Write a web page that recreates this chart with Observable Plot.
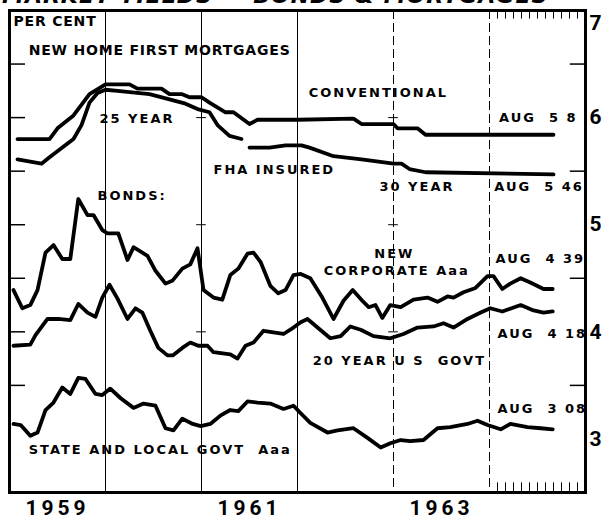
<!DOCTYPE html>
<html><head><meta charset="utf-8">
<script src="https://cdn.jsdelivr.net/npm/d3@7"></script>
<script src="https://cdn.jsdelivr.net/npm/@observablehq/plot@0.6"></script>
<style>
html,body{margin:0;padding:0;background:#fff;overflow:hidden}
#wrap{position:relative;width:604px;height:519px;overflow:hidden;background:#fff}
#title{position:absolute;left:2px;top:-15px;font:italic bold 22px "DejaVu Sans";line-height:1;white-space:nowrap;letter-spacing:1px;z-index:2;color:#000}
#wrap svg{position:absolute;left:0;top:0}
</style></head><body><div id="wrap"><div id="title">MARKET YIELDS — BONDS &amp; MORTGAGES</div></div>
<script>
// x is months since Jan 1959 (0 = start of 1959, 72 = end of 1964); values in per cent
const convMonths = [1,5,6,8,10,12,15,16,19,20,21.5,22.5,24,25,27,28,30,31,36,43,44,48,48.5,51,52,68];
const convValues = [5.80,5.80,5.90,6.02,6.22,6.31,6.31,6.27,6.27,6.22,6.22,6.19,6.19,6.14,6.05,6.05,5.94,5.98,5.98,5.99,5.94,5.94,5.90,5.90,5.84,5.84];

const fha25Months = [1,4,5,8,9,10,11,12,13.5,17.5,20,22,23.5,25,26,27.5,29];
const fha25Values = [5.61,5.57,5.63,5.80,5.93,6.14,6.23,6.26,6.25,6.22,6.17,6.13,6.08,6.05,5.93,5.83,5.80];

const fha30Months = [30,32.5,34.5,36.5,37.5,40.5,44,48,49,50,52,68];
const fha30Values = [5.72,5.72,5.74,5.74,5.72,5.64,5.61,5.57,5.57,5.52,5.49,5.47];

const corpMonths = [0.5,1.6,2.6,3.5,4.5,5.5,6.6,7.6,8.6,9.75,10.5,11.6,12.25,13.6,14.75,15.5,17.25,18.25,19.5,20.4,21.6,22.6,23.5,24.25,25.5,26.6,27.6,28.6,29.75,30.5,31.4,32.6,33.6,34.5,35.5,36.4,37.6,39.1,40.5,41.75,42.9,44.1,44.9,45.75,46.6,47.6,48.9,50.5,52.25,53.5,54.75,55.5,56.75,58.25,59.75,60.5,61.6,62.6,63.9,65.1,66.75,67.9];
const corpValues = [4.39,4.22,4.25,4.39,4.74,4.81,4.68,4.68,5.24,5.09,5.09,4.95,4.92,4.92,4.67,4.79,4.71,4.57,4.45,4.48,4.59,4.63,4.78,4.39,4.32,4.30,4.53,4.59,4.73,4.74,4.65,4.43,4.36,4.39,4.53,4.54,4.50,4.32,4.12,4.29,4.39,4.29,4.23,4.25,4.13,4.25,4.23,4.30,4.32,4.28,4.33,4.32,4.37,4.41,4.52,4.52,4.40,4.45,4.50,4.46,4.40,4.40];

const govtMonths = [0.5,2.6,3.25,4.75,6.1,7.6,8.6,9.75,10.75,11.6,12.5,13.5,14.75,15.75,16.6,17.6,18.6,19.75,20.4,21.6,22.6,23.6,24.75,25.5,27.6,28.5,29.5,30.5,31.75,34.25,35.5,36.4,37.25,38.5,40.1,41.4,42.6,43.9,45.5,47.6,49.25,51,53,54.25,55.5,57.25,58.9,60.1,61.6,63.9,65.5,66.75,67.9];
const govtValues = [3.87,3.88,3.97,4.12,4.12,4.11,4.26,4.18,4.14,4.32,4.44,4.31,4.12,4.22,4.18,4.01,3.85,3.78,3.78,3.85,3.90,3.87,3.87,3.81,3.79,3.75,3.87,3.90,4.01,3.98,4.04,4.09,4.12,4.04,3.94,3.96,4.05,4.02,3.96,3.94,3.98,4.04,4.05,4.08,4.04,4.12,4.18,4.22,4.19,4.25,4.20,4.18,4.19];

const stateMonths = [0.5,1.4,2.6,3.5,4.5,5.5,6.6,7.6,8.6,9.5,10.75,11.6,12.6,13.9,15.5,16.75,18.25,19.5,20.5,21.6,22.9,23.9,25.1,26.4,27.6,28.6,29.75,31,32.6,34.25,35.5,36.4,37.6,39.75,41,43,44.75,46.4,47.6,48.9,50.1,51.75,53.5,55.1,57.25,58.5,59.75,61.4,62.6,64.75,66.4,67.9];
const stateValues = [3.14,3.13,3.03,3.06,3.27,3.34,3.48,3.42,3.57,3.56,3.42,3.41,3.47,3.38,3.29,3.33,3.31,3.10,3.08,3.19,3.14,3.12,3.14,3.22,3.27,3.26,3.35,3.34,3.33,3.28,3.31,3.24,3.15,3.06,3.08,3.10,3.01,2.92,2.96,2.99,2.98,2.99,3.10,3.11,3.14,3.17,3.13,3.09,3.14,3.11,3.10,3.09];

const yearTicks = [6, 30, 54];
const yearLabels = ["1959", "1961", "1963"];
const valueTicks = [3, 4, 5, 6, 7];
const leftTicks = [3.5, 4, 4.5, 5, 5.5, 6, 6.5];
const rightTicks = [3.5, 4.5, 5.5, 6.5];
const solidGrid = [12, 24, 36];
const dashedGrid = [48, 60];
const monthTicks1964 = [61,62,63,64,65,66,67,68,69,70,71];

// annotation layout (label text, anchor month, anchor value)
const labels = [
  {text: "PER CENT", m: 0.5, v: 6.90, big: true},
  {text: "NEW HOME FIRST MORTGAGES", m: 2.4, v: 6.63, big: true},
  {text: "CONVENTIONAL", m: 37.4, v: 6.23},
  {text: "25 YEAR", m: 11.25, v: 5.99},
  {text: "AUG\u00a0\u00a05 8", m: 61.2, v: 6.00},
  {text: "FHA INSURED", m: 25.5, v: 5.51},
  {text: "30 YEAR", m: 46.25, v: 5.35},
  {text: "AUG\u00a0\u00a05 46", m: 60.6, v: 5.35},
  {text: "BONDS:", m: 11, v: 5.27},
  {text: "AUG\u00a0\u00a04 39", m: 60.75, v: 4.68},
  {text: "AUG\u00a0\u00a04 18", m: 61, v: 3.98},
  {text: "20 YEAR U S\u00a0\u00a0GOVT", m: 37.9, v: 3.73},
  {text: "AUG\u00a0\u00a03 08", m: 61, v: 3.28},
  {text: "STATE AND LOCAL GOVT\u00a0\u00a0Aaa", m: 2.4, v: 2.90}
];
const centerLabels = [
  {text: "NEW", m: 48.1, v: 4.73},
  {text: "CORPORATE Aaa", m: 48.4, v: 4.57}
];

const toRows = (ms, vs, series) => ms.map((m, i) => ({m, v: vs[i], series}));
const rows = [
  ...toRows(convMonths, convValues, "conv"),
  ...toRows(fha25Months, fha25Values, "fha25"),
  ...toRows(fha30Months, fha30Values, "fha30"),
  ...toRows(corpMonths, corpValues, "corp"),
  ...toRows(govtMonths, govtValues, "govt"),
  ...toRows(stateMonths, stateValues, "state")
];
const crosses = [];
for (const g of [24, 48]) for (const v of [4, 5, 6]) crosses.push({g, v});

const chart = Plot.plot({
  width: 604, height: 519,
  marginLeft: 9, marginRight: 19, marginTop: 10, marginBottom: 27,
  x: {domain: [0, 72], label: null},
  y: {domain: [2.5, 7], label: null},
  style: {fontFamily: "DejaVu Sans", background: "transparent", color: "black"},
  marks: [
    Plot.ruleX(solidGrid, {stroke: "black", strokeWidth: 1}),
    Plot.ruleX(dashedGrid, {stroke: "black", strokeWidth: 1, strokeDasharray: "9,4"}),
    Plot.ruleY(crosses, {y: "v", x1: d => d.g - 0.6, x2: d => d.g + 0.6, stroke: "black", strokeWidth: 1}),
    Plot.ruleY(leftTicks, {x1: 0, x2: 2, stroke: "black", strokeWidth: 1.5}),
    Plot.ruleY(rightTicks, {x1: 70.1, x2: 72, stroke: "black", strokeWidth: 1.5}),
    Plot.ruleX(monthTicks1964, {y1: 7, y2: 6.92, stroke: "black", strokeWidth: 1}),
    Plot.ruleX(monthTicks1964, {y1: 2.5, y2: 2.59, stroke: "black", strokeWidth: 1}),
    Plot.line(rows, {x: "m", y: "v", z: "series", stroke: "black", strokeWidth: 3.8, strokeLinejoin: "round", strokeLinecap: "round"}),
    Plot.text(labels.filter(d => d.big), {x: "m", y: "v", text: "text", textAnchor: "start", fontSize: 14, fontWeight: "bold", fill: "black"}),
    Plot.text(labels.filter(d => !d.big), {x: "m", y: "v", text: "text", textAnchor: "start", fontSize: 13, fontWeight: "bold", fill: "black"}),
    Plot.text(centerLabels, {x: "m", y: "v", text: "text", textAnchor: "middle", fontSize: 13, fontWeight: "bold", fill: "black"}),
    Plot.frame({stroke: "black", strokeWidth: 3}),
    Plot.axisX(yearTicks, {anchor: "bottom", tickSize: 0, tickPadding: 8, label: null,
      tickFormat: d => yearLabels[yearTicks.indexOf(d)], fontSize: 21, fontWeight: "bold", fontFamily: "Roboto"}),
    Plot.axisY(valueTicks, {anchor: "right", tickSize: 0, tickPadding: 4, label: null,
      tickFormat: d => String(d), fontSize: 21, fontWeight: "bold", fontFamily: "Roboto"})
  ]
});

d3.select(chart).selectAll('g[aria-label="text"]').each(function () {
  const fs = +this.getAttribute("font-size");
  d3.select(this).attr("letter-spacing", fs === 14 ? 0.8 : 2);
});
d3.select(chart).selectAll('g[aria-label="x-axis tick label"]').attr("letter-spacing", 4);
// the top label sits just inside the frame, as in the original
d3.select(chart).selectAll('g[aria-label="y-axis tick label"] text')
  .filter(function () { return this.textContent === "7"; })
  .attr("dy", "0.6em");
document.getElementById("wrap").appendChild(chart);
</script></body></html>
